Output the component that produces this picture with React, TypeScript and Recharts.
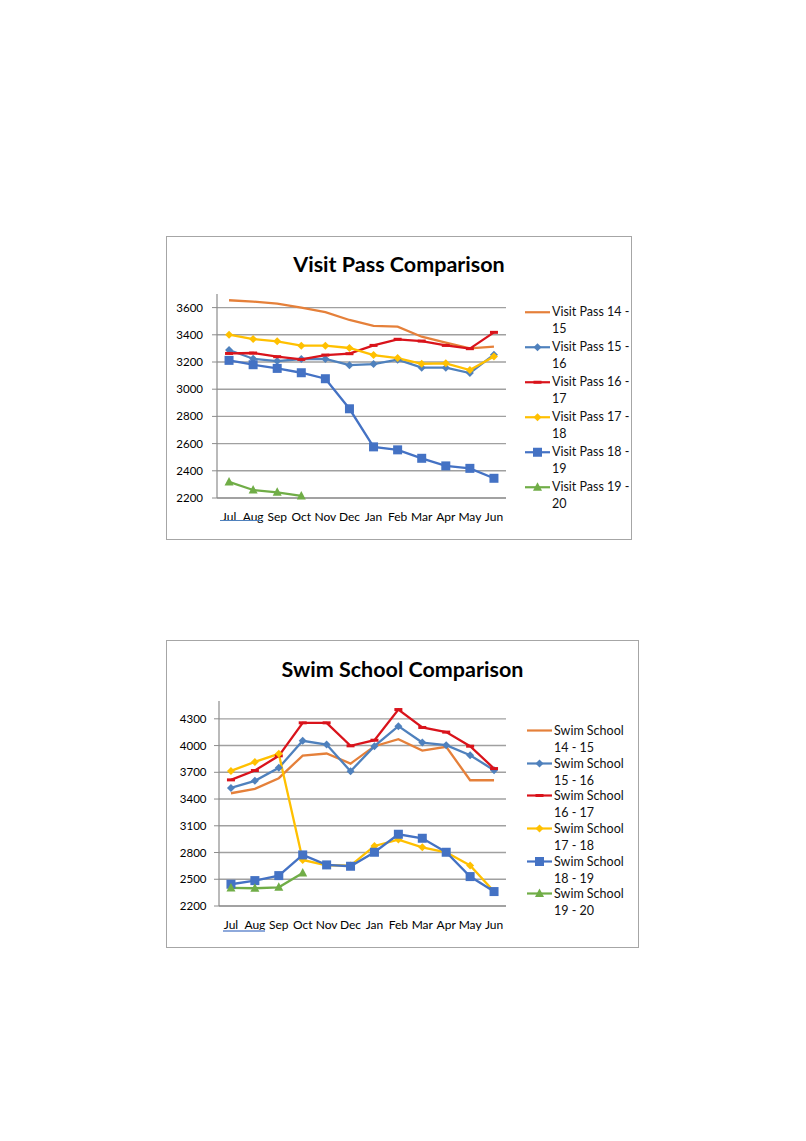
import { CartesianGrid, Legend, Line, LineChart, XAxis, YAxis } from "recharts";

const months = ["Jul", "Aug", "Sep", "Oct", "Nov", "Dec", "Jan", "Feb", "Mar", "Apr", "May", "Jun"];

// Visit Pass values
const visitNames = ["Visit Pass 14 - 15", "Visit Pass 15 - 16", "Visit Pass 16 - 17", "Visit Pass 17 - 18", "Visit Pass 18 - 19", "Visit Pass 19 - 20"];
const visit1415 = [3654, 3644, 3629, 3600, 3566, 3509, 3465, 3460, 3386, 3342, 3300, 3313];
const visit1516 = [3288, 3224, 3207, 3222, 3222, 3177, 3185, 3217, 3158, 3158, 3119, 3254];
const visit1617 = [3263, 3266, 3239, 3219, 3251, 3261, 3322, 3367, 3354, 3322, 3298, 3418];
const visit1718 = [3401, 3369, 3352, 3320, 3320, 3303, 3251, 3229, 3187, 3190, 3141, 3241];
const visit1819 = [3212, 3180, 3153, 3121, 3077, 2856, 2576, 2554, 2492, 2436, 2418, 2345];
const visit1920 = [2318, 2259, 2242, 2215, null, null, null, null, null, null, null, null];
const visitTicks = [2200, 2400, 2600, 2800, 3000, 3200, 3400, 3600];

// Swim School values
const swimNames = ["Swim School 14 - 15", "Swim School 15 - 16", "Swim School 16 - 17", "Swim School 17 - 18", "Swim School 18 - 19", "Swim School 19 - 20"];
const swim1415 = [3465, 3514, 3634, 3888, 3911, 3798, 3993, 4072, 3944, 3986, 3611, 3611];
const swim1516 = [3525, 3604, 3750, 4053, 4012, 3712, 3993, 4218, 4034, 4004, 3892, 3724];
const swim1617 = [3615, 3720, 3885, 4255, 4255, 3997, 4060, 4404, 4203, 4151, 3993, 3742];
const swim1718 = [3716, 3817, 3907, 2717, 2657, 2654, 2874, 2945, 2859, 2803, 2654, 2362];
const swim1819 = [2444, 2485, 2541, 2773, 2661, 2646, 2803, 3005, 2960, 2803, 2530, 2362];
const swim1920 = [2403, 2399, 2410, 2571, null, null, null, null, null, null, null, null];
const swimTicks = [2200, 2500, 2800, 3100, 3400, 3700, 4000, 4300];

type Marker = "none" | "diamond" | "dash" | "square" | "triangle";

const styles: { key: string; color: string; marker: Marker }[] = [
  { key: "a", color: "#E5803A", marker: "none" },
  { key: "b", color: "#4F81BD", marker: "diamond" },
  { key: "c", color: "#D9131B", marker: "dash" },
  { key: "d", color: "#FFC000", marker: "diamond" },
  { key: "e", color: "#4472C4", marker: "square" },
  { key: "f", color: "#70AD47", marker: "triangle" },
];

const FONT = "Lato, 'Open Sans', sans-serif";

function markerShape(marker: Marker, cx: number, cy: number, color: string) {
  switch (marker) {
    case "diamond":
      return <path d={`M${cx},${cy - 4}L${cx + 4},${cy}L${cx},${cy + 4}L${cx - 4},${cy}Z`} fill={color} />;
    case "square":
      return <rect x={cx - 4.5} y={cy - 4.5} width={9} height={9} fill={color} />;
    case "triangle":
      return <path d={`M${cx},${cy - 5}L${cx + 4.5},${cy + 3.5}L${cx - 4.5},${cy + 3.5}Z`} fill={color} />;
    case "dash":
      return <rect x={cx - 4} y={cy - 1.5} width={8} height={3} fill={color} />;
    default:
      return null;
  }
}

function makeRows(series: (number | null)[][]) {
  return months.map((m, i) => {
    const row: Record<string, string | number | null> = { month: m };
    series.forEach((s, j) => {
      row[styles[j].key] = s[i];
    });
    return row;
  });
}

interface ChartProps {
  title: string;
  names: string[];
  series: (number | null)[][];
  ticks: number[];
  domain: [number, number];
  width: number;
  height: number;
  margin: { top: number; right: number; bottom: number; left: number };
  titleTop: number;
  legendLeft: number;
  legendTop: number;
  legendGap: number;
  legendLine: number;
  breakAt: number;
  yTickMargin: number;
}

function ComparisonChart(p: ChartProps) {
  const data = makeRows(p.series);
  const renderLegend = (props: any) => (
    <div style={{ fontFamily: FONT, fontSize: 12.5, color: "#111" }}>
      {(props.payload || []).map((entry: any) => {
        const st = styles.find((s) => s.key === entry.dataKey) || styles[0];
        const words = String(entry.value).split(" ");
        return (
          <div key={st.key} style={{ height: p.legendGap, display: "flex", alignItems: "flex-start" }}>
            <svg width={27} height={p.legendLine} style={{ flex: "none" }}>
              <line x1={0} x2={25} y1={p.legendLine / 2} y2={p.legendLine / 2} stroke={st.color} strokeWidth={2.2} />
              {markerShape(st.marker, 12.5, p.legendLine / 2, st.color)}
            </svg>
            <div style={{ lineHeight: `${p.legendLine}px`, whiteSpace: "nowrap" }}>
              <div>{words.slice(0, p.breakAt).join(" ")}</div>
              <div>{words.slice(p.breakAt).join(" ")}</div>
            </div>
          </div>
        );
      })}
    </div>
  );

  return (
    <div style={{ position: "relative", width: p.width, height: p.height, border: "1px solid #a6a6a6", background: "#fff" }}>
      <div
        style={{
          position: "absolute",
          top: p.titleTop,
          left: 0,
          width: "100%",
          textAlign: "center",
          fontFamily: FONT,
          fontWeight: 700,
          fontSize: 21.5,
          lineHeight: "24px",
          color: "#000",
        }}
      >
        {p.title}
      </div>
      <LineChart width={p.width} height={p.height} data={data} margin={p.margin} style={{ fontFamily: FONT }}>
        <XAxis
          xAxisId="edge"
          type="number"
          domain={[0, 12]}
          ticks={[0, 1, 2, 3, 4, 5, 6, 7, 8, 9, 10, 11, 12]}
          tick={false}
          height={0}
          axisLine={false}
          tickSize={5}
          tickLine={{ stroke: "#8c8c8c" }}
        />
        <XAxis
          xAxisId="cat"
          dataKey="month"
          scale="band"
          interval={0}
          height={22}
          tickLine={false}
          tickMargin={8}
          axisLine={{ stroke: "#8c8c8c", strokeWidth: 1.2 }}
          tick={{ fill: "#000", fontSize: 12 }}
        />
        <YAxis
          domain={p.domain}
          ticks={p.ticks}
          interval={0}
          width={40}
          tickSize={5}
          tickMargin={p.yTickMargin}
          axisLine={{ stroke: "#8c8c8c", strokeWidth: 1.2 }}
          tickLine={{ stroke: "#8c8c8c" }}
          tick={{ fill: "#000", fontSize: 11.5 }}
        />
        <CartesianGrid xAxisId="cat" vertical={false} syncWithTicks stroke="#a0a0a0" strokeWidth={1.4} />
        <Legend
          layout="vertical"
          align="center"
          verticalAlign="middle"
          wrapperStyle={{ left: p.legendLeft, top: p.legendTop, width: 120 }}
          content={renderLegend}
        />
        {styles.map((st, j) => (
          <Line
            key={st.key}
            xAxisId="cat"
            dataKey={st.key}
            name={p.names[j]}
            stroke={st.color}
            strokeWidth={2.3}
            isAnimationActive={false}
            connectNulls={false}
            activeDot={false}
            dot={(d: any) => (
              <g key={`${st.key}-${d.index}`}>
                {d.value == null || d.cy == null ? null : markerShape(st.marker, d.cx, d.cy, st.color)}
              </g>
            )}
          />
        ))}
      </LineChart>
    </div>
  );
}

export default function App() {
  return (
    <div style={{ position: "absolute", left: 0, top: 0, width: 806, height: 1141, background: "#fff" }}>
      <div style={{ position: "absolute", left: 166, top: 236 }}>
        <ComparisonChart
          title="Visit Pass Comparison"
          names={visitNames}
          series={[visit1415, visit1516, visit1617, visit1718, visit1819, visit1920]}
          ticks={visitTicks}
          domain={[2200, 3700]}
          width={464}
          height={302}
          margin={{ top: 57, right: 125, bottom: 19, left: 10 }}
          titleTop={15}
          legendLeft={358}
          legendTop={67}
          legendGap={35.1}
          legendLine={16.5}
          breakAt={4}
          yTickMargin={9}
        />
        <div style={{ position: "absolute", left: 54, top: 284, width: 41, height: 1, background: "#4F81BD" }} />
      </div>
      <div style={{ position: "absolute", left: 166, top: 640 }}>
        <ComparisonChart
          title="Swim School Comparison"
          names={swimNames}
          series={[swim1415, swim1516, swim1617, swim1718, swim1819, swim1920]}
          ticks={swimTicks}
          domain={[2200, 4500]}
          width={471}
          height={306}
          margin={{ top: 60, right: 132, bottom: 19, left: 12 }}
          titleTop={16}
          legendLeft={360}
          legendTop={81}
          legendGap={32.7}
          legendLine={17}
          breakAt={2}
          yTickMargin={7.5}
        />
        <div style={{ position: "absolute", left: 57, top: 290, width: 42, height: 2, background: "#8EA9DB" }} />
      </div>
    </div>
  );
}
